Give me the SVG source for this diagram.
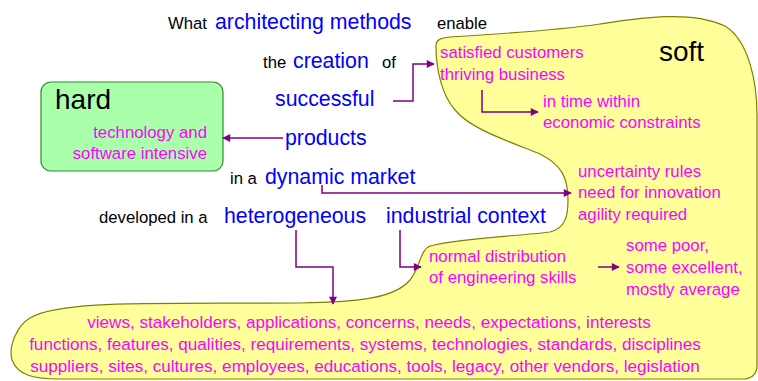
<svg xmlns="http://www.w3.org/2000/svg" width="758" height="381" viewBox="0 0 758 381">
<style>
text{font-family:"Liberation Sans",Arial,sans-serif}
.k{fill:#000;font-size:16.7px}
.b{fill:#0000ff;font-size:21.3px}
.m{fill:#ff00ff;font-size:16.8px}
.mb{fill:#ff00ff;font-size:17.1px}
.big{fill:#000;font-size:28px}
.c{fill:none;stroke:#800080;stroke-width:1.5}
</style>
<defs>
<marker id="ah" viewBox="0 0 10 10" refX="9" refY="5" markerWidth="9" markerHeight="8" markerUnits="userSpaceOnUse" orient="auto">
<path d="M0,0 L10,5 L0,10 z" fill="#800080"/>
</marker>
</defs>
<rect width="758" height="381" fill="#fff"/>
<g id="soft">
<path d="M436,46 C436,40 440,38 450,37 C500,34 560,30 600,24 C640,18 690,10 725,26 C748,40 757,80 757,115 L757,365 C757,374 752,378 745,379 L60,379 C35,379 18,376 12,360 C8,345 18,325 30,318 C60,300 150,304 300,303 C360,302 395,298 410,280 C420,268 420,250 430,246 C460,238 520,236 550,232 C566,228 568,215 568,200 C568,178 562,165 540,154 C500,138 470,128 455,110 C442,95 436,70 436,46 Z" fill="#ffff99" stroke="#808000" stroke-width="1.2"/>
<text class="big" x="659" y="61">soft</text>
</g>
<g id="hard">
<rect x="41" y="82" width="182" height="89" rx="10" ry="10" fill="#aaffaa" stroke="#2e8b2e" stroke-width="1.2"/>
<text class="big" x="55" y="109">hard</text>
<text class="m" x="207" y="138" text-anchor="end">technology and</text>
<text class="m" x="207" y="159" text-anchor="end">software intensive</text>
</g>
<g id="sentence">
<text class="k" x="168" y="29">What</text>
<text class="b" x="215" y="29">architecting methods</text>
<text class="k" x="437" y="29">enable</text>
<text class="k" x="263" y="68">the</text>
<text class="b" x="293" y="68">creation</text>
<text class="k" x="382" y="68">of</text>
<text class="b" x="275" y="106">successful</text>
<text class="b" x="285" y="145">products</text>
<text class="k" x="230" y="184">in a</text>
<text class="b" x="265" y="184">dynamic market</text>
<text class="k" x="99" y="223">developed in a</text>
<text class="b" x="224" y="223">heterogeneous</text>
<text class="b" x="386" y="223">industrial context</text>
</g>
<g id="customers">
<text class="m" x="440" y="58">satisfied customers</text>
<text class="m" x="440" y="80">thriving business</text>
</g>
<g id="intime">
<text class="m" x="543" y="107">in time within</text>
<text class="m" x="543" y="128">economic constraints</text>
</g>
<g id="uncertainty">
<text class="m" x="578" y="177">uncertainty rules</text>
<text class="m" x="578" y="198">need for innovation</text>
<text class="m" x="578" y="220">agility required</text>
</g>
<g id="distribution">
<text class="m" x="429" y="262">normal distribution</text>
<text class="m" x="429" y="283">of engineering skills</text>
</g>
<g id="skills">
<text class="m" x="626" y="251">some poor,</text>
<text class="m" x="626" y="273">some excellent,</text>
<text class="m" x="626" y="295">mostly average</text>
</g>
<g id="heterogeneity">
<text class="mb" x="369" y="328" text-anchor="middle">views, stakeholders, applications, concerns, needs, expectations, interests</text>
<text class="mb" x="365" y="350" text-anchor="middle">functions, features, qualities, requirements, systems, technologies, standards, disciplines</text>
<text class="mb" x="365" y="372" text-anchor="middle">suppliers, sites, cultures, employees, educations, tools, legacy, other vendors, legislation</text>
</g>
<g id="connectors">
<path class="c" d="M393,101 H413 V64 H434" marker-end="url(#ah)"/>
<path class="c" d="M482,90 V112 H538" marker-end="url(#ah)"/>
<path class="c" d="M283,138 H223" marker-end="url(#ah)"/>
<path class="c" d="M322,185 V193 H571" marker-end="url(#ah)"/>
<path class="c" d="M296,230 V267 H333 V304" marker-end="url(#ah)"/>
<path class="c" d="M400,230 V267 H421" marker-end="url(#ah)"/>
<path class="c" d="M598,267 H619" marker-end="url(#ah)"/>
</g>
</svg>
